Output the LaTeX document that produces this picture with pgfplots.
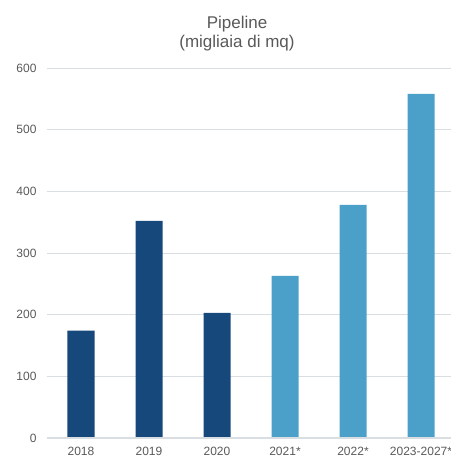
\documentclass[border=0pt]{standalone}
\usepackage{pgfplots}
\pgfplotsset{compat=1.18}
\usepackage{fontspec}
\setmainfont{Liberation Sans}
\usetikzlibrary{calc}
\definecolor{darkb}{RGB}{23,72,124}
\definecolor{lightb}{RGB}{75,160,202}
\definecolor{gridc}{RGB}{217,222,226}
\definecolor{tickc}{RGB}{89,89,89}
\begin{document}
\begin{tikzpicture}
\begin{axis}[
  name=ax,
  scale only axis,
  width=408pt, height=370pt,
  xmin=-0.5, xmax=5.5, ymin=0, ymax=600,
  ytick={0,100,...,600},
  xtick={0,1,2,3,4,5},
  xticklabels={2018,2019,2020,2021*,2022*,2023-2027*},
  axis line style={draw=none},
  axis x line*=bottom,
  major tick length=0pt,
  ymajorgrids,
  grid style={gridc, line width=0.8pt},
  tick label style={font=\fontsize{12}{14}\selectfont, text=tickc},
  /pgf/number format/assume math mode=true,
  yticklabel style={xshift=-7pt},
  xticklabel style={yshift=-6pt},
  ybar, bar width=27pt,
  clip=false,
]
\addplot[fill=darkb, draw=none, bar shift=0pt] coordinates {(0,174) (1,352) (2,203)};
\addplot[fill=lightb, draw=none, bar shift=0pt] coordinates {(3,263) (4,378) (5,558)};
\draw[gridc, line width=1.2pt] (axis cs:-0.5,0) -- (axis cs:5.5,0);
\end{axis}
\node[align=center, font=\fontsize{17}{19}\selectfont, text=tickc, anchor=base] at ($(ax.south west)+(190pt,390pt)$) {Pipeline\\(migliaia di mq)};
\pgfresetboundingbox
\path[use as bounding box] ($(ax.south west)+(-47pt,-19pt)$) rectangle ($(ax.south west)+(403pt,438pt)$);
\end{tikzpicture}
\end{document}
